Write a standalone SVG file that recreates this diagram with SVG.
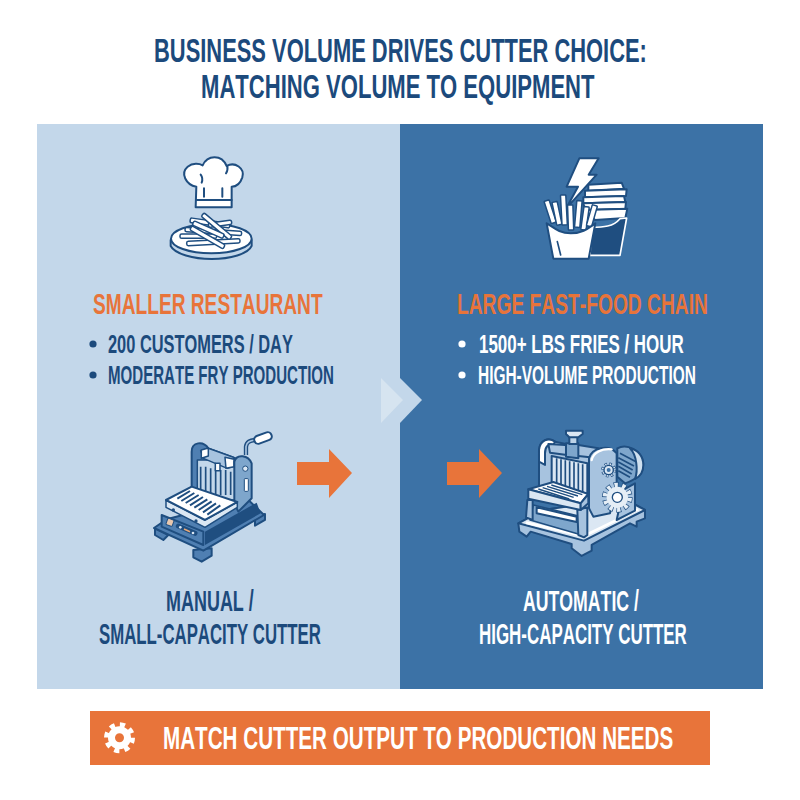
<svg xmlns="http://www.w3.org/2000/svg" width="800" height="800" viewBox="0 0 800 800">
<style>
text{font-family:"Liberation Sans",Arial,sans-serif;font-weight:700;font-kerning:none}
.t{fill:#1c4a7c;font-size:33px}
.h{fill:#e8743a;font-size:30px}
.d{fill:#1c4a7c;font-size:25px}
.w{fill:#fff;font-size:25px}
.c{fill:#1c4a7c;font-size:29px}
.cw{fill:#fff;font-size:29px}
.o{stroke:#1f4e80;stroke-width:6;stroke-linejoin:round;stroke-linecap:round}
.o2{stroke:#1f4e80;stroke-width:4.5;stroke-linejoin:round;stroke-linecap:round}
.wh{fill:#fff}.lt{fill:#dbe7f3}.pl{fill:#a7c3df}.mid{fill:#7ea6cc}.mb{fill:#4f7fb2}.dk{fill:#1f4e80}.no{fill:none}
</style>
<rect width="800" height="800" fill="#fff"/>
<g id="title">
<text class="t" transform="translate(154 62) scale(.664 1)">BUSINESS VOLUME DRIVES CUTTER CHOICE:</text>
<text class="t" transform="translate(201 98) scale(.669 1)">MATCHING VOLUME TO EQUIPMENT</text>
</g>
<g id="panels">
<rect x="37" y="124" width="363" height="565" fill="#c3d7ea"/>
<rect x="400" y="124" width="363" height="565" fill="#3c72a6"/>
<polygon points="400,378 422,400 400,423" fill="#c3d7ea"/>
<polygon points="381,378 403,400 381,423" fill="#d6e4f0"/>
</g>
<g id="icon-chef" transform="translate(150 140) scale(.3333)">
<path class="o wh" d="M139,140C108,135 90,100 113,80C128,68 148,70 158,76C172,44 215,42 230,78C255,64 285,85 277,112C271,130 258,140 245,140L245,202L137,202Z"/>
<path class="o no" d="M139,180H245M162,145V170M217,145V170M155,128C158,120 158,112 152,104M232,78C234,90 232,95 228,100"/>
<path class="o" fill="#c3d7ea" d="M62,300V318C75,342 130,357 185,357C240,357 295,342 305,318V300Z"/>
<ellipse class="o wh" cx="184" cy="296" rx="121" ry="44"/>
<g class="o2 wh">
<rect x="90" y="282" width="110" height="13" rx="5"/>
<rect x="105" y="268" width="170" height="13" rx="5" transform="rotate(4 190 274)"/>
<rect x="110" y="300" width="160" height="13" rx="5" transform="rotate(-3 190 306)"/>
<rect x="120" y="242" width="120" height="14" rx="5" transform="rotate(8 180 249)"/>
<rect x="175" y="245" width="70" height="13" rx="5" transform="rotate(-8 210 250)"/>
<rect x="115" y="285" width="115" height="14" rx="5" transform="rotate(30 172 292)"/>
<rect x="145" y="252" width="110" height="14" rx="5" transform="rotate(40 200 259)"/>
<rect x="125" y="262" width="100" height="14" rx="5" transform="rotate(24 175 269)"/>
</g>
</g>
<g id="icon-fries" transform="translate(520 140) scale(.3333)">
<g class="o wh">
<path d="M205,134L305,128L312,146L205,152Z"/>
<path d="M195,152L320,148L318,168L195,172Z"/>
<path d="M190,172L312,168L316,186L190,190Z"/>
<path d="M190,190L318,186L316,206L195,210Z"/>
<path d="M195,210L322,206L316,234L225,240Z"/>
</g>
<path class="dk" stroke="#fff" stroke-width="5" stroke-linejoin="round" d="M215,262C250,262 280,260 300,236L320,234L300,346L210,346Z"/>
<polygon class="o wh" points="178,55 236,55 206,104 230,104 138,206 174,140 140,140"/>
<g class="o2 wh">
<rect x="-8" y="-40" width="16" height="70" rx="2" transform="translate(92 220) rotate(-18)"/>
<rect x="-8" y="-40" width="16" height="70" rx="2" transform="translate(112 225) rotate(-12)"/>
<rect x="-8" y="-50" width="16" height="90" rx="2" transform="translate(132 215) rotate(-3)"/>
<rect x="-8" y="-40" width="16" height="75" rx="2" transform="translate(152 235) rotate(-2)"/>
<rect x="-8" y="-40" width="16" height="80" rx="2" transform="translate(175 222) rotate(5)"/>
<rect x="-8" y="-35" width="16" height="70" rx="2" transform="translate(195 235) rotate(8)"/>
<rect x="-8" y="-35" width="16" height="65" rx="2" transform="translate(215 230) rotate(16)"/>
</g>
<path class="o wh" d="M80,250C100,262 118,280 152,280C190,280 208,262 226,250L206,356H100Z"/>
<path d="M112,305L122,345" stroke="#1f4e80" stroke-width="5" stroke-linecap="round"/>
</g>
<g id="left-text">
<text class="h" transform="translate(93 314) scale(.638 1)">SMALLER RESTAURANT</text>
<circle cx="93" cy="344" r="3.6" fill="#1c4a7c"/>
<text class="d" transform="translate(108 353) scale(.656 1)">200 CUSTOMERS / DAY</text>
<circle cx="93" cy="375" r="3.6" fill="#1c4a7c"/>
<text class="d" transform="translate(108 384) scale(.603 1)">MODERATE FRY PRODUCTION</text>
<text class="c" transform="translate(166 611) scale(.62 1)">MANUAL /</text>
<text class="c" transform="translate(99 644) scale(.579 1)">SMALL-CAPACITY CUTTER</text>
</g>
<g id="right-text">
<text class="h" transform="translate(457 314) scale(.641 1)">LARGE FAST-FOOD CHAIN</text>
<circle cx="462" cy="344" r="3.6" fill="#fff"/>
<text class="w" transform="translate(479 353) scale(.678 1)">1500+ LBS FRIES / HOUR</text>
<circle cx="462" cy="375" r="3.6" fill="#fff"/>
<text class="w" transform="translate(478 384) scale(.618 1)">HIGH-VOLUME PRODUCTION</text>
<text class="cw" transform="translate(523 611) scale(.61 1)">AUTOMATIC /</text>
<text class="cw" transform="translate(479 644) scale(.584 1)">HIGH-CAPACITY CUTTER</text>
</g>
<g id="machine-small" transform="translate(140 420) scale(.3333)">
<g class="o mb">
<path d="M45,325V345L70,360L85,345Z"/>
<path d="M160,390V412L185,425L215,407V385Z"/>
<path d="M345,290V317L375,300V282Z"/>
<path d="M42,324L80,298L320,235L372,285L190,392Z"/>
</g>
<path class="dk" d="M195,335L350,248L362,280L195,375Z"/>
<path class="o mb" d="M65,285L190,335V375L65,320Z"/>
<rect x="80" y="297" width="20" height="20" rx="3" fill="#e8c7ae" stroke="#1f4e80" stroke-width="3" transform="rotate(20 90 307)"/>
<path d="M115,318L165,340" stroke="#1f4e80" stroke-width="15" stroke-linecap="round"/>
<path d="M132,327L150,335" stroke="#e8a877" stroke-width="5"/>
<circle cx="121" cy="322" r="4" fill="#dbe7f3"/><circle cx="159" cy="339" r="4" fill="#dbe7f3"/>
<path class="o mb" d="M155,215V95C155,65 190,62 205,85L300,120V230L165,220Z"/>
<rect class="o2" fill="#c3d7ea" x="172" y="120" width="115" height="120"/>
<path d="M182,140V225M197,140V225M212,145V225M227,145V225M242,150V225M257,150V225M272,155V225" stroke="#1f4e80" stroke-width="5"/>
<path class="o2 pl" d="M182,92L205,85L280,112L285,138L262,145L190,115Z"/>
<path class="o2 wh" d="M184,90L205,84V108L184,115Z"/>
<path class="o2 wh" d="M255,112L282,118V140L258,145Z"/>
<path class="o2 wh" d="M226,130H240V152H226Z"/>
<path class="o mid" d="M283,250V125C290,100 325,105 335,130V235L295,275Z"/>
<circle cx="316" cy="146" r="8" fill="#dbe7f3" stroke="#1f4e80" stroke-width="3"/>
<rect x="313" y="176" width="12" height="38" rx="2" fill="#fff" stroke="#1f4e80" stroke-width="3"/>
<path d="M318,105V80C320,65 330,62 345,60" fill="none" stroke="#1f4e80" stroke-width="13"/>
<path d="M318,105V80C320,65 330,62 345,60" fill="none" stroke="#a7c3df" stroke-width="5"/>
<rect class="o wh" x="342" y="42" width="54" height="24" rx="11" transform="rotate(-20 369 54)"/>
<path class="o2 lt" d="M78,240L195,300L292,246V262L195,322L78,262Z"/>
<path class="o wh" d="M78,240L155,200L292,246L195,300Z"/>
<path d="M112,236L150,213M124,243L163,219M137,249L176,225M150,256L189,231M163,263L202,238M176,270L215,244M189,277L228,250M202,284L241,256" stroke="#1f4e80" stroke-width="6"/>
<circle cx="100" cy="270" r="5" fill="#1f4e80"/><circle cx="168" cy="303" r="5" fill="#1f4e80"/>
</g>
<g id="machine-large" transform="translate(510 420) scale(.3333)">
<path class="o pl" d="M25,310L100,270L340,235L405,270V295L380,305V320L360,310L245,375V392L215,408L185,385V372L62,335L50,350L28,335Z"/>
<path class="o lt" d="M25,310L100,270L340,235L405,270L222,362Z"/>
<path d="M48,308L222,348L385,268" fill="none" stroke="#fff" stroke-width="8"/>
<path class="o2" fill="#7ea6cc" d="M70,255L215,290V345L60,300Z"/>
<path class="o wh" d="M80,262L200,290V306L80,280Z"/>
<path class="o pl" d="M52,240L68,240V300L48,292Z"/>
<path class="o pl" d="M202,270L232,262V345L222,352L205,345Z"/>
<path class="o" fill="#7ea6cc" d="M322,85C350,70 395,90 400,130C400,165 375,180 345,190L322,170Z"/>
<path d="M330,100L378,125M325,113L372,138M325,126L368,150M325,139L365,162M325,152L360,172" stroke="#1f4e80" stroke-width="5"/>
<path class="o" fill="#cfe0ef" d="M360,85C385,90 400,110 400,135C400,155 390,170 375,177C385,150 380,105 360,85Z"/>
<path class="o pl" d="M340,210L375,190V272L320,300Z"/>
<path class="o pl" d="M87,200V90C90,60 115,50 135,65L255,90L240,255L87,205Z"/>
<path class="o wh" d="M87,125V90C90,62 115,50 135,65L130,75C115,70 105,80 105,100V135Z"/>
<path class="o" fill="#dbe7f3" d="M125,108L232,130V222L125,190Z"/>
<path d="M140,115V192M153,118V196M166,121V200M179,124V204M192,127V208M205,130V212M218,133V216" stroke="#1f4e80" stroke-width="5"/>
<path class="o pl" d="M115,72L165,75H205L265,85L240,112L205,108L165,104L120,98Z"/>
<path class="o" fill="#7ea6cc" d="M168,70H205V115L168,110Z"/>
<path class="o" fill="#bcd2e7" d="M178,48H202V72H178Z"/>
<path class="o lt" d="M168,32H218V42L205,52H178L168,42Z"/>
<path class="o wh" d="M55,208L130,186L235,222L212,250Z"/>
<path d="M85,207L178,237M98,203L191,232M111,199L204,228M124,195L217,224" stroke="#1f4e80" stroke-width="4"/>
<path class="o lt" d="M55,208L212,250V270L55,236Z"/>
<path class="o pl" d="M235,222L212,250V270L235,250Z"/>
<path class="o pl" d="M237,265V115C245,85 295,70 320,100V200L300,280L250,290Z"/>
<path class="no" d="M245,120C250,98 275,85 305,88" stroke="#fff" stroke-width="7" stroke-linecap="round"/>
<g id="gear-small" fill="none">
<circle cx="296" cy="150" r="17" stroke="#1f4e80" stroke-width="11" stroke-dasharray="6.700 6.650"/>
<circle cx="296" cy="150" r="17" stroke="#dbe7f3" stroke-width="7" stroke-dasharray="3.700 9.650" stroke-dashoffset="-1.500"/>
<circle cx="296" cy="150" r="14" fill="#dbe7f3" stroke="#1f4e80" stroke-width="4"/>
<circle cx="296" cy="150" r="6" fill="#3c72a6"/>
</g>
<g id="gear-big" fill="none">
<circle cx="322" cy="232" r="37" stroke="#1f4e80" stroke-width="18" stroke-dasharray="14 9.250"/>
<circle cx="322" cy="232" r="37" stroke="#e5eef6" stroke-width="14" stroke-dasharray="10 13.250" stroke-dashoffset="-2"/>
<circle cx="322" cy="232" r="32" fill="#e5eef6"/>
<circle cx="322" cy="232" r="15" fill="#fff" stroke="#1f4e80" stroke-width="4"/>
</g>
</g>
<g id="arrows" fill="#e8743a">
<polygon points="297,462 329,462 329,449 352,473 329,498 329,485 297,485"/>
<polygon points="447,462 479,462 479,449 502,473 479,498 479,485 447,485"/>
</g>
<g id="banner">
<rect x="90" y="711" width="620" height="54" fill="#e8743a"/>
<g id="gear" fill="none" stroke="#fff">
<circle cx="119.500" cy="737.700" r="8" stroke-width="7"/>
<circle cx="119.500" cy="737.700" r="13" stroke-width="5" stroke-dasharray="5.100 5.110"/>
</g>
<text fill="#fff" font-size="31" transform="translate(163 749) scale(.666 1)">MATCH CUTTER OUTPUT TO PRODUCTION NEEDS</text>
</g>
</svg>
